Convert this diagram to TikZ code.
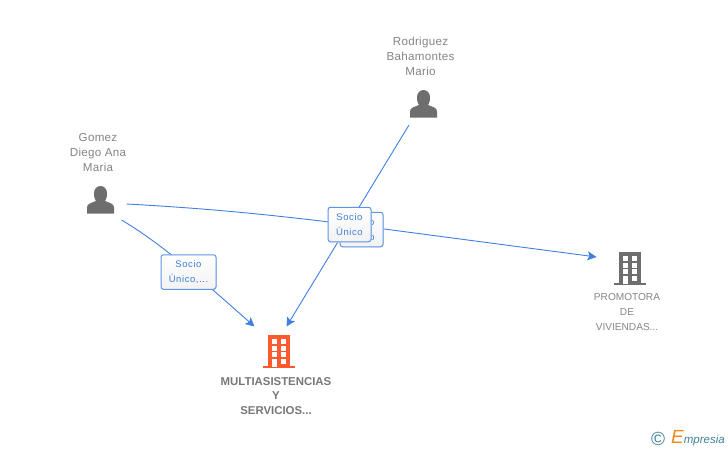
\documentclass[tikz,border=0pt]{standalone}
\usepackage{fontspec}
\setmainfont{Liberation Sans}
\newfontfamily\tagfont[LetterSpace=6]{Liberation Sans}
\newfontfamily\namefont[LetterSpace=2.5]{Liberation Sans}
\usetikzlibrary{arrows.meta,shadows}
\definecolor{edgeblue}{HTML}{3F80E0}
\definecolor{boxblue}{HTML}{5B96E6}
\definecolor{labelblue}{HTML}{3F7FD8}
\definecolor{icongrey}{HTML}{6E6E6E}
\definecolor{textgrey}{HTML}{858585}
\definecolor{orangeb}{HTML}{FF5A2D}
\definecolor{logoteal}{HTML}{3F8296}
\definecolor{logoorange}{HTML}{F08A1E}
\tikzset{
  x=1pt,y=-1pt,
  iconspot/.style={inner sep=0pt,minimum width=34pt,minimum height=34pt},
  name text/.style={text=textgrey,font=\namefont\fontsize{11.6}{15}\selectfont,align=center,inner sep=0pt},
  company text/.style={name text,font=\fontsize{10.1}{14.6}\selectfont},
  main text/.style={name text,text=textgrey!90!black,font=\fontsize{11.4}{14.6}\selectfont\bfseries},
  edge line/.style={draw=edgeblue,line width=0.9pt},
  arrow line/.style={edge line,-{Stealth[length=9pt,width=9pt,inset=2pt]}},
  tag/.style={draw=boxblue,line width=1pt,rounded corners=2.5pt,top color=white,bottom color=black!5,
    text=labelblue,font=\tagfont\fontsize{9.5}{15}\selectfont,align=center,inner sep=0pt,
    minimum width=43pt,minimum height=34.5pt,
    general shadow={fill=black!12,shadow xshift=0.6pt,shadow yshift=-0.6pt}},
}
\newcommand{\personicon}[2]{%
  \fill[icongrey,shift={(#1,#2)}] (-13.5,13.5) -- (-13.5,7.5)
    .. controls (-13.5,3.5) and (-9,3) .. (-4.5,1)
    .. controls (-6.5,-2) and (-6.5,-5) .. (-6.5,-7)
    .. controls (-6.5,-11) and (-3.5,-14) .. (0,-14)
    .. controls (3.5,-14) and (6.5,-11) .. (6.5,-7)
    .. controls (6.5,-5) and (6.5,-2) .. (4.5,1)
    .. controls (9,3) and (13.5,3.5) .. (13.5,7.5)
    -- (13.5,13.5) -- cycle;}
\newcommand{\buildingicon}[3]{%
  \begin{scope}[shift={(#1,#2)}]
    \fill[#3] (-11,-16.5) rectangle (11,15);
    \fill[#3] (-16,14.5) rectangle (16,16.5);
    \foreach \yy in {-12.5,-5.5,0.5}{
      \fill[white] (-7,\yy) rectangle (-2,\yy+4.5);
      \fill[white] (2,\yy) rectangle (7,\yy+4.5);}
    \fill[white] (2,7.5) rectangle (7,12);
    \fill[white] (-7,7.5) rectangle (-2,15);
  \end{scope}}
\begin{document}
\begin{tikzpicture}
\useasboundingbox (0,0) rectangle (728,450);
\fill[white] (0,0) rectangle (728,450);

\node[iconspot] (rodriguez) at (423.5,104) {};
\node[iconspot] (gomez) at (100.5,200) {};
\node[iconspot] (multi) at (279,351.5) {};
\node[iconspot] (promotora) at (630,268.5) {};
\personicon{423.5}{104}
\personicon{100.5}{200}
\buildingicon{279}{351.5}{orangeb}
\buildingicon{630}{268.5}{icongrey}

\node[name text] (rodriguezname) at (420.5,56) {Rodriguez\\Bahamontes\\Mario};
\node[name text] (gomezname) at (98,152.5) {Gomez\\Diego Ana\\Maria};
\node[main text] (multiname) at (276,396) {MULTIASISTENCIAS\\Y\\SERVICIOS...};
\node[company text] (promotoraname) at (627,312) {PROMOTORA\\DE\\VIVIENDAS...};

% connectors, drawn beneath the tags
\coordinate (tagAcentre) at (188.5,272);
\coordinate (tagBcentre) at (361.5,229.5);
\coordinate (tagBpass) at (361.5,226);
\coordinate (tagApass) at (192.6,272);
\draw[edge line] ([shift={(26,4)}]gomez.center)
  .. controls (220,209) and (290,217) .. (tagBpass);
\draw[arrow line] (tagBpass) -- ([shift={(-33.5,-11.5)}]promotora.center);
\draw[edge line] ([shift={(21,20)}]gomez.center) .. controls (140,231) and (160,245) .. (tagApass);
\draw[arrow line] (tagApass) -- ([shift={(-24.5,-25)}]multi.center);
\draw[arrow line] ([shift={(-14.5,21)}]rodriguez.center) -- ([shift={(7.5,-25)}]multi.center);

\node[tag,minimum width=55pt] (tagA) at (tagAcentre) {Socio\\Único,...};
\node[tag] (tagB) at (tagBcentre) {Socio\\Único};
\node[tag] (tagC) at (349.5,224.5) {Socio\\Único};

% logo
\node[text=logoteal,font=\fontsize{19}{19}\selectfont,inner sep=0pt] (copyright) at (658,438.5) {©};
\node[inner sep=0pt,anchor=base west] (brand) at (671,443.5)
  {\itshape\textcolor{logoorange}{\fontsize{19}{19}\selectfont E}\textcolor{logoteal}{\fontsize{11.5}{13}\selectfont mpresia}};
\end{tikzpicture}
\end{document}
